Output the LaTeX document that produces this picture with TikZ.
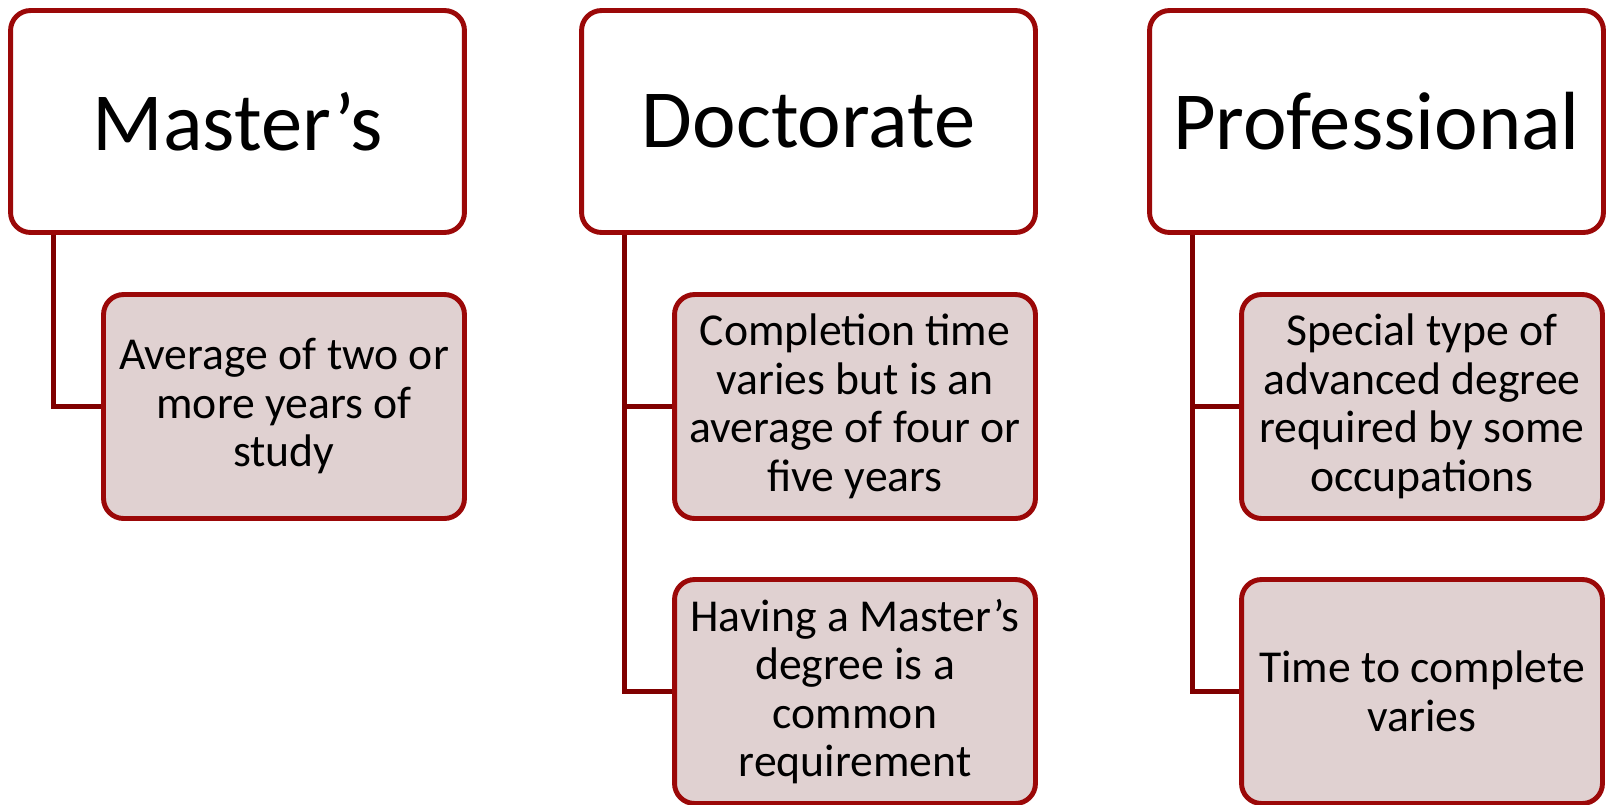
\documentclass[tikz,border=0pt]{standalone}
\usepackage{fontspec}
\setmainfont{Carlito}
\definecolor{boxred}{RGB}{155,8,8}
\definecolor{linkred}{RGB}{128,0,0}
\definecolor{boxfill}{RGB}{224,209,209}

\begin{document}
\begin{tikzpicture}[x = .02cm, y = -.02cm,
		topbox/.style = {draw=boxred, line width=2.8pt, rounded corners=.4cm, fill=white,
			minimum width=9.08cm, minimum height=4.44cm, font=\fontsize{47}{56}\selectfont},
		subbox/.style = {draw=boxred, line width=2.8pt, rounded corners=.4cm, fill=boxfill,
			minimum width=7.22cm, minimum height=4.48cm, align=center, font=\fontsize{26}{27.6}\selectfont},
		link/.style = {draw=linkred, line width=2.8pt}]
				\useasboundingbox (0,0) rectangle (1607,805);
				% the three degrees
				\node[topbox] (master) at (237.5,121.5) {Master’s};
				\node[topbox] (doctor) at (808.5,121.5) {Doctorate};
				\node[topbox] (prof) at (1376.5,121.5) {Professional};
				% the notes below them
				\node[subbox] (master1) at (284,406.5) {Average of two or\\more years of\\study};
				\node[subbox] (doctor1) at (855,406.5) {Completion time\\varies but is an\\average of four or\\five years};
				\node[subbox] (doctor2) at (855,691.5) {Having a Master’s\\degree is a\\common\\requirement};
				\node[subbox] (prof1) at (1422,406.5) {Special type of\\advanced degree\\required by some\\occupations};
				\node[subbox] (prof2) at (1422,691.5) {Time to complete\\varies};
				% connectors
				\draw[link] ([xshift=.91cm]master.south west) |- (master1.west);
				\draw[link] ([xshift=.91cm]doctor.south west) coordinate (dtrunk) |- (doctor2.west);
				\draw[link] (dtrunk |- doctor1.west) -- (doctor1.west);
				\draw[link] ([xshift=.91cm]prof.south west) coordinate (ptrunk) |- (prof2.west);
				\draw[link] (ptrunk |- prof1.west) -- (prof1.west);
			\end{tikzpicture}
\end{document}
